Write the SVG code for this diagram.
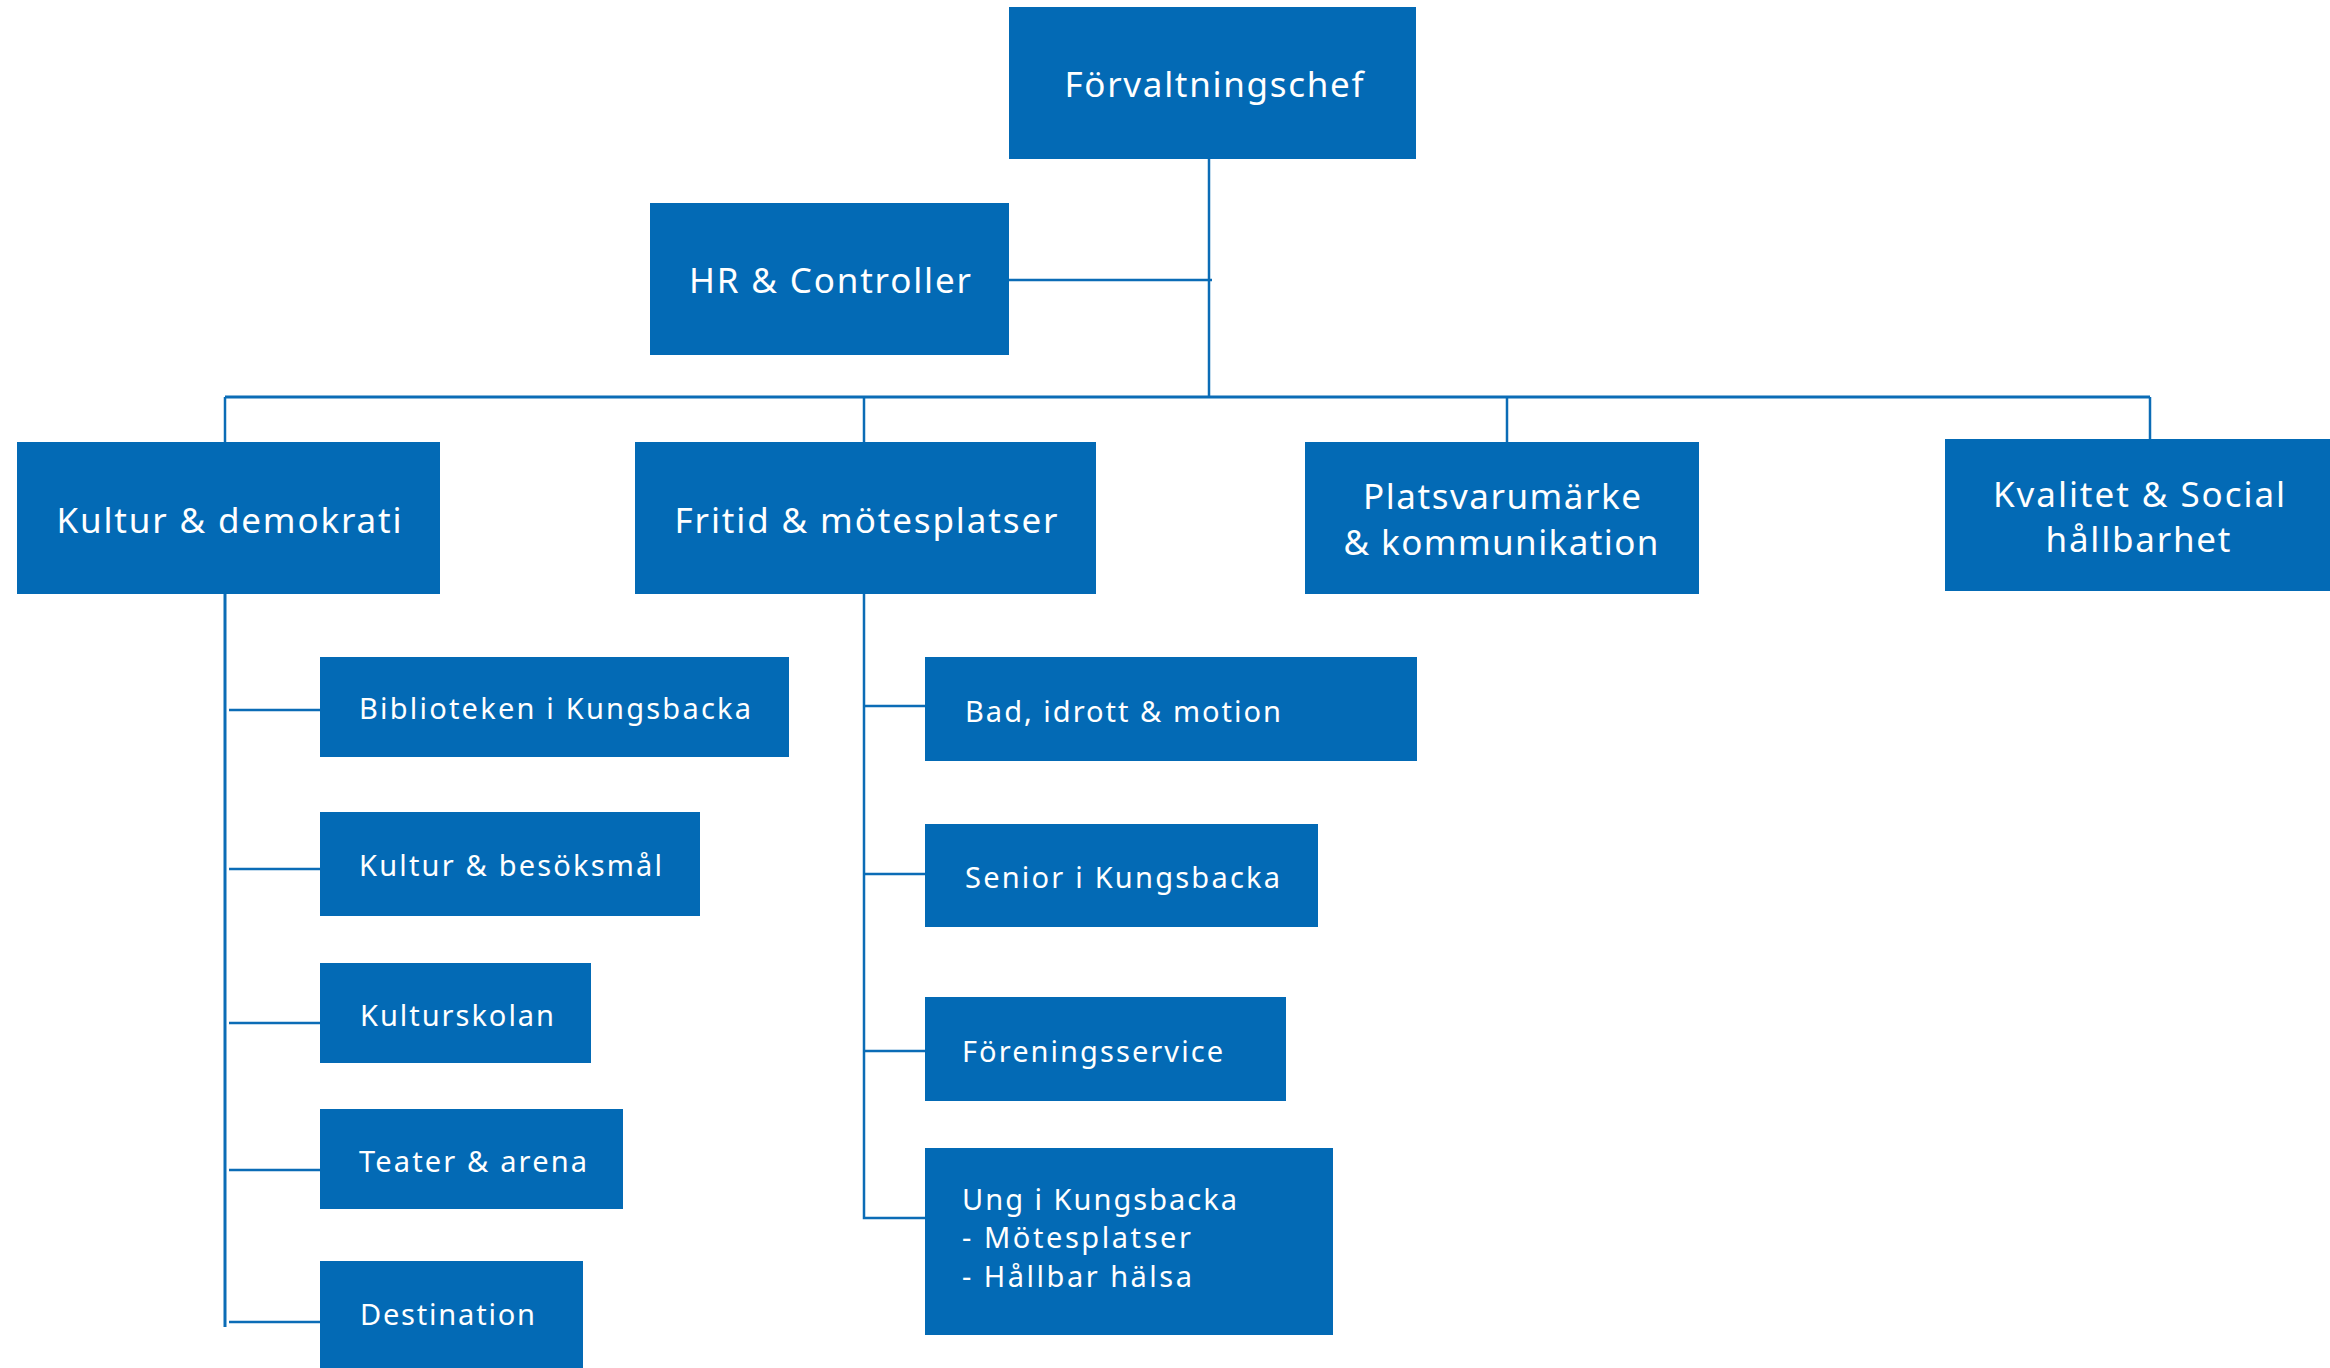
<svg xmlns="http://www.w3.org/2000/svg" width="2330" height="1368" viewBox="0 0 2330 1368">
<style>
.box{fill:#036AB5}
.t{fill:#ffffff;font-family:"Noto Sans","Open Sans","Liberation Sans",sans-serif;font-weight:400}
.m{font-size:35px;text-anchor:middle}
.s{font-size:29px}
.c{fill:none;stroke:#0B6CB6;stroke-width:2.5}
</style>
<rect width="2330" height="1368" fill="#ffffff"/>
<g id="connectors">
<path class="c" d="M1209 159V397"/>
<path class="c" d="M1009 280H1212"/>
<path class="c" style="stroke-width:3" d="M225 397H2150"/>
<path class="c" d="M225 397V442"/>
<path class="c" d="M864 397V442"/>
<path class="c" d="M1507 397V442"/>
<path class="c" d="M2150 397V439"/>
<path class="c" style="stroke-width:3" d="M225 594V1327"/>
<path class="c" d="M229 710H320M229 869H320M229 1023H320M229 1170H320M229 1322H320"/>
<path class="c" d="M864 594V1218H925"/>
<path class="c" d="M864 706H925M864 874H925M864 1051H925"/>
</g>
<g id="forvaltningschef">
<rect class="box" x="1009" y="7" width="407" height="152"/>
<text class="t m" x="1214" y="97" textLength="299" lengthAdjust="spacing">Förvaltningschef</text>
</g>
<g id="hr-controller">
<rect class="box" x="650" y="203" width="359" height="152"/>
<text class="t m" x="830" y="293" textLength="282" lengthAdjust="spacing">HR &amp; Controller</text>
</g>
<g id="kultur-demokrati">
<rect class="box" x="17" y="442" width="423" height="152"/>
<text class="t m" x="229" y="533" textLength="345" lengthAdjust="spacing">Kultur &amp; demokrati</text>
</g>
<g id="fritid-motesplatser">
<rect class="box" x="635" y="442" width="461" height="152"/>
<text class="t m" x="866" y="533" textLength="383" lengthAdjust="spacing">Fritid &amp; mötesplatser</text>
</g>
<g id="platsvarumarke">
<rect class="box" x="1305" y="442" width="394" height="152"/>
<text class="t m" x="1502" y="509" textLength="278" lengthAdjust="spacing">Platsvarumärke</text>
<text class="t m" x="1501" y="555" textLength="315" lengthAdjust="spacing">&amp; kommunikation</text>
</g>
<g id="kvalitet-social">
<rect class="box" x="1945" y="439" width="385" height="152"/>
<text class="t m" x="2139" y="507" textLength="292" lengthAdjust="spacing">Kvalitet &amp; Social</text>
<text class="t m" x="2138" y="552" textLength="185" lengthAdjust="spacing">hållbarhet</text>
</g>
<g id="biblioteken">
<rect class="box" x="320" y="657" width="469" height="100"/>
<text class="t s" x="359" y="719" textLength="392" lengthAdjust="spacing">Biblioteken i Kungsbacka</text>
</g>
<g id="kultur-besoksmal">
<rect class="box" x="320" y="812" width="380" height="104"/>
<text class="t s" x="359" y="876" textLength="303" lengthAdjust="spacing">Kultur &amp; besöksmål</text>
</g>
<g id="kulturskolan">
<rect class="box" x="320" y="963" width="271" height="100"/>
<text class="t s" x="360" y="1026" textLength="194" lengthAdjust="spacing">Kulturskolan</text>
</g>
<g id="teater-arena">
<rect class="box" x="320" y="1109" width="303" height="100"/>
<text class="t s" x="359" y="1172" textLength="228" lengthAdjust="spacing">Teater &amp; arena</text>
</g>
<g id="destination">
<rect class="box" x="320" y="1261" width="263" height="107"/>
<text class="t s" x="360" y="1325" textLength="175" lengthAdjust="spacing">Destination</text>
</g>
<g id="bad-idrott-motion">
<rect class="box" x="925" y="657" width="492" height="104"/>
<text class="t s" x="965" y="722" textLength="316" lengthAdjust="spacing">Bad, idrott &amp; motion</text>
</g>
<g id="senior">
<rect class="box" x="925" y="824" width="393" height="103"/>
<text class="t s" x="965" y="888" textLength="315" lengthAdjust="spacing">Senior i Kungsbacka</text>
</g>
<g id="foreningsservice">
<rect class="box" x="925" y="997" width="361" height="104"/>
<text class="t s" x="962" y="1062" textLength="261" lengthAdjust="spacing">Föreningsservice</text>
</g>
<g id="ung">
<rect class="box" x="925" y="1148" width="408" height="187"/>
<text class="t s" x="962" y="1210" textLength="275" lengthAdjust="spacing">Ung i Kungsbacka</text>
<text class="t s" x="962" y="1248" textLength="229" lengthAdjust="spacing">- Mötesplatser</text>
<text class="t s" x="962" y="1287" textLength="230" lengthAdjust="spacing">- Hållbar hälsa</text>
</g>
</svg>
